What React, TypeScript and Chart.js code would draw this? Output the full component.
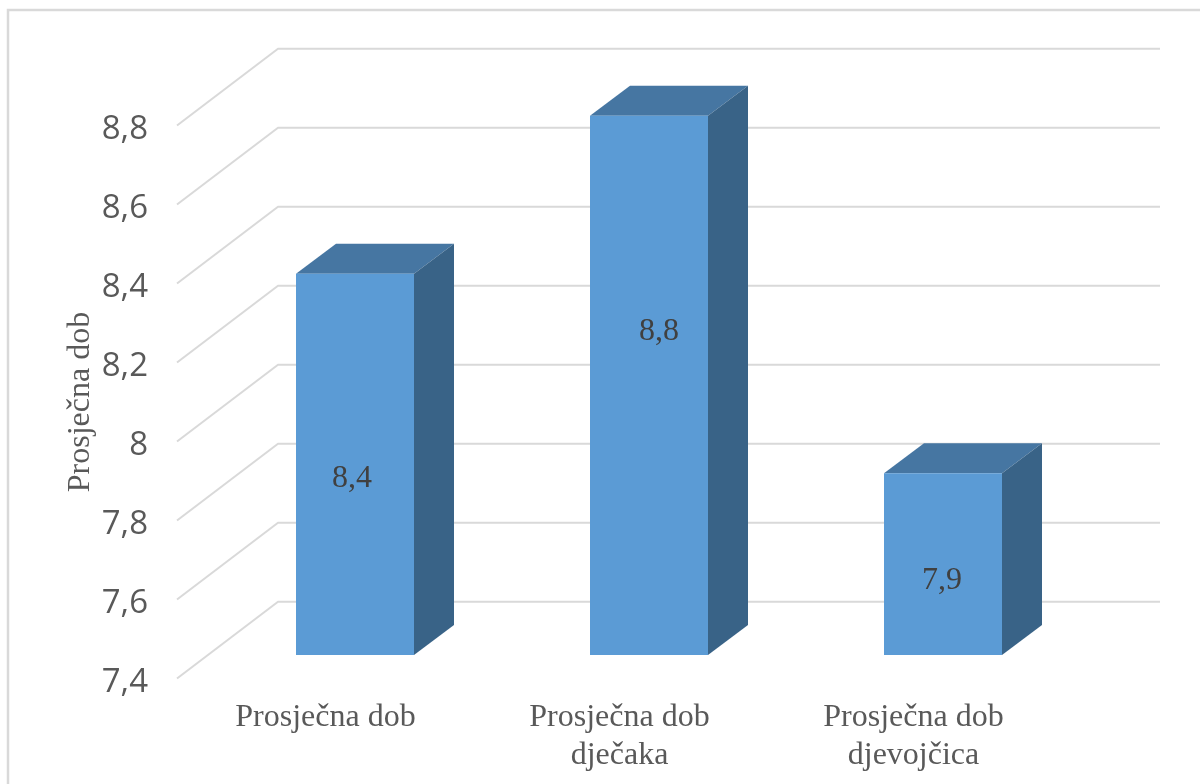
import React, { useEffect, useRef } from "react";
import { Chart, registerables } from "chart.js";

Chart.register(...registerables);

const categories = [["Prosječna dob"], ["Prosječna dob", "dječaka"], ["Prosječna dob", "djevojčica"]];
const averageAge = [8.365, 8.765, 7.86];
const axisTitle = "Prosječna dob";
const axisMin = 7.4;
const axisMax = 8.8;
const axisStep = 0.2;

const labelNudge = [[-3, 14], [10, -54], [-1, 16]];

const GREY = "#595959";
const GRID = "#D9D9D9";
const FRONT = "#5B9BD5";
const TOP = "#4676A2";
const SIDE = "#396387";
const WALL = { dx: 101, dy: 76.7 };
const BAR_SHIFT = { dx: 31, dy: 23.5 };
const BAR_DEPTH = { dx: 40, dy: 30 };

const comma = (v: number) => String(Math.round(v * 10) / 10).replace(".", ",");

const threeD = {
  id: "threeD",
  beforeDraw(chart: any) {
    const { ctx, width, height } = chart;
    ctx.save();
    ctx.fillStyle = "#fff";
    ctx.fillRect(0, 0, width, height);
    ctx.strokeStyle = "#D9D9D9";
    ctx.lineWidth = 2.5;
    ctx.beginPath();
    ctx.moveTo(8, height);
    ctx.lineTo(8, 10);
    ctx.lineTo(width, 10);
    ctx.stroke();
    ctx.restore();
  },
  beforeDatasetsDraw(chart: any) {
    const { ctx, chartArea, scales } = chart;
    ctx.save();
    ctx.strokeStyle = GRID;
    ctx.lineWidth = 2;
    ctx.lineJoin = "round";
    for (const t of scales.y.ticks) {
      const y = scales.y.getPixelForValue(t.value);
      ctx.beginPath();
      ctx.moveTo(chartArea.left, y);
      ctx.lineTo(chartArea.left + WALL.dx, y - WALL.dy);
      ctx.lineTo(chartArea.right + WALL.dx, y - WALL.dy);
      ctx.stroke();
    }
    ctx.restore();
  },
  beforeDatasetDraw(chart: any, args: any) {
    const { ctx } = chart;
    ctx.save();
    ctx.translate(BAR_SHIFT.dx, -BAR_SHIFT.dy);
    for (const bar of args.meta.data) {
      const { x, y, base, width } = bar.getProps(["x", "y", "base", "width"], true);
      const l = x - width / 2;
      const r = x + width / 2;
      ctx.fillStyle = TOP;
      ctx.beginPath();
      ctx.moveTo(l, y);
      ctx.lineTo(l + BAR_DEPTH.dx, y - BAR_DEPTH.dy);
      ctx.lineTo(r + BAR_DEPTH.dx, y - BAR_DEPTH.dy);
      ctx.lineTo(r, y);
      ctx.closePath();
      ctx.fill();
      ctx.fillStyle = SIDE;
      ctx.beginPath();
      ctx.moveTo(r, y);
      ctx.lineTo(r + BAR_DEPTH.dx, y - BAR_DEPTH.dy);
      ctx.lineTo(r + BAR_DEPTH.dx, base - BAR_DEPTH.dy);
      ctx.lineTo(r, base);
      ctx.closePath();
      ctx.fill();
    }
  },
  afterDatasetDraw(chart: any, args: any) {
    const { ctx } = chart;
    ctx.fillStyle = "#404040";
    ctx.font = '32px "Liberation Serif"';
    ctx.textAlign = "center";
    ctx.textBaseline = "middle";
    args.meta.data.forEach((bar: any, i: number) => {
      const { x, y, base } = bar.getProps(["x", "y", "base"], true);
      ctx.fillText(
        comma(averageAge[i]),
        x + labelNudge[i][0],
        (y + base) / 2 + labelNudge[i][1]
      );
    });
    ctx.restore();
  },
};

export default function App() {
  const ref = useRef<HTMLCanvasElement>(null);
  useEffect(() => {
    const chart = new Chart(ref.current!, {
      type: "bar",
      data: {
        labels: categories,
        datasets: [
          {
            label: axisTitle,
            data: averageAge,
            base: axisMin,
            backgroundColor: FRONT,
            borderWidth: 0,
            barPercentage: 118 / 294,
            categoryPercentage: 1,
            clip: false,
          } as any,
        ],
      },
      options: {
        responsive: false,
        animation: false,
        devicePixelRatio: 1,
        layout: { padding: { top: 125.5, right: 141, left: 0, bottom: 0 } },
        plugins: { legend: { display: false }, tooltip: { enabled: false }, title: { display: false } },
        scales: {
          x: {
            grid: { display: false, drawTicks: false },
            border: { display: false },
            afterFit: (s: any) => { s.height = 105.5; },
            ticks: {
              color: GREY,
              font: { family: "Liberation Serif", size: 32, lineHeight: 1.16 },
              padding: 21,
              labelOffset: 1.5,
              maxRotation: 0,
              autoSkip: false,
            },
          },
          y: {
            min: axisMin,
            max: axisMax,
            grid: { display: false, drawTicks: false },
            border: { display: false },
            afterFit: (s: any) => { s.width = 177; },
            title: {
              display: true,
              text: axisTitle,
              color: GREY,
              font: { family: "Liberation Serif", size: 32 },
              padding: { top: 61, bottom: 0 },
            },
            ticks: {
              stepSize: axisStep,
              color: GREY,
              font: { family: "Open Sans", size: 33 },
              padding: 29,
              labelOffset: 4,
              callback: (v: any) => comma(Number(v)),
            },
          },
        },
      },
      plugins: [threeD],
    } as any);
    return () => chart.destroy();
  }, []);
  return (
    <div style={{ position: "fixed", left: 0, top: 0, width: 1200, height: 784 }}>
      <canvas ref={ref} width={1200} height={784} style={{ display: "block" }} />
    </div>
  );
}
